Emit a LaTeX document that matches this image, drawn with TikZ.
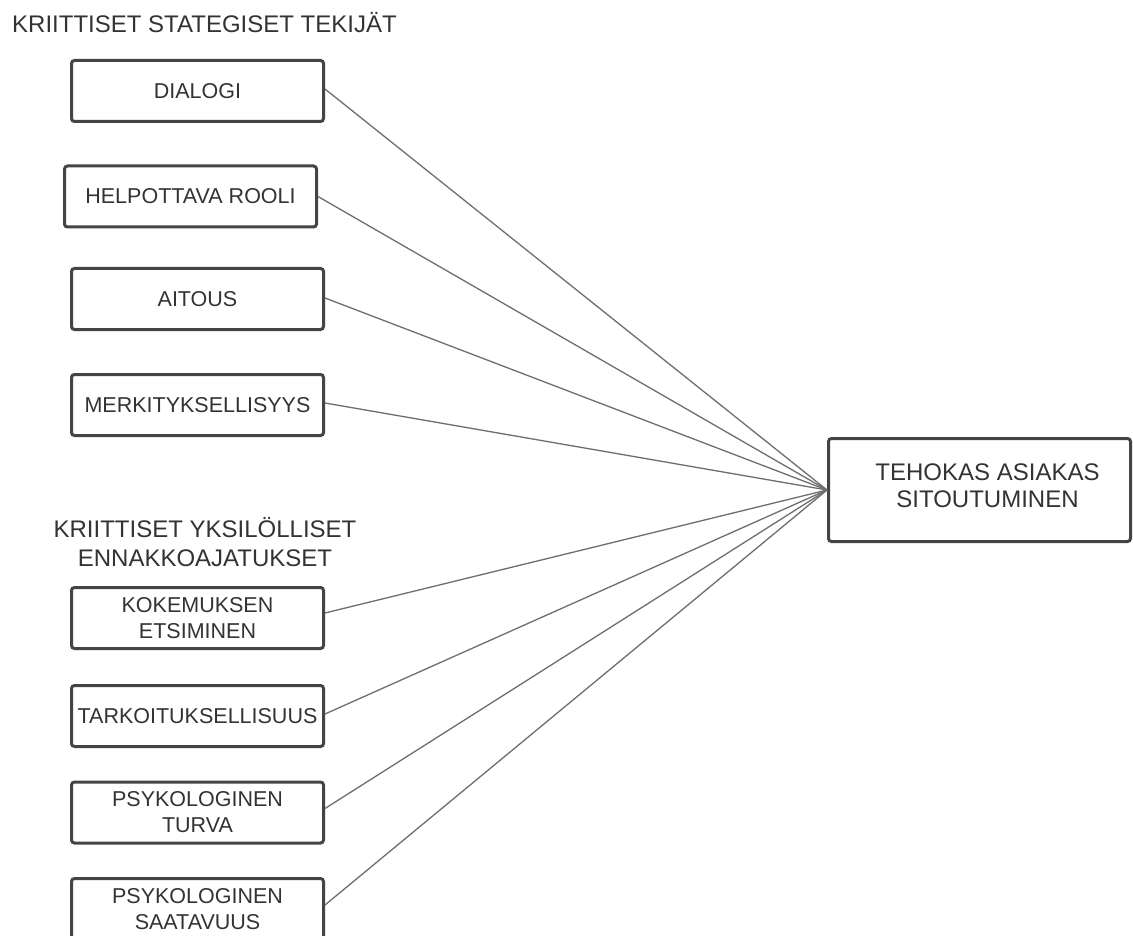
\documentclass[tikz,border=0pt]{standalone}
\usepackage{fontspec}
\setmainfont{Liberation Sans}
\definecolor{boxc}{HTML}{444444}
\definecolor{txtc}{HTML}{333333}
\definecolor{linec}{HTML}{6E6E6E}
\begin{document}
\begin{tikzpicture}[x=1pt,y=-1pt,
  box/.style={draw=boxc,line width=3pt,rounded corners=3pt,minimum width=252pt,minimum height=61pt,inner sep=0pt,align=center,text=txtc,font=\fontsize{21.5}{26}\selectfont},
  ttl/.style={text=txtc,font=\fontsize{24}{29}\selectfont,inner sep=0pt,align=center},
  conn/.style={draw=linec,line width=1.3pt}]
\useasboundingbox (0,0) rectangle (1133,936);
\clip (0,0) rectangle (1133,936);
\fill[white] (0,0) rectangle (1133,936);

\node[ttl,anchor=base west] (t1) at (12,33) {KRIITTISET STATEGISET TEKIJÄT};
\node[ttl] (t2) at (205,542) {KRIITTISET YKSILÖLLISET\\ENNAKKOAJATUKSET};

\node[box] (b1) at (197.5,91) {DIALOGI};
\node[box] (b2) at (190.5,196.5) {HELPOTTAVA ROOLI};
\node[box] (b3) at (197.5,299) {AITOUS};
\node[box] (b4) at (197.5,405) {MERKITYKSELLISYYS};
\node[box] (b5) at (197.5,618) {KOKEMUKSEN\\ETSIMINEN};
\node[box] (b6) at (197.5,716) {TARKOITUKSELLISUUS};
\node[box] (b7) at (197.5,812.5) {PSYKOLOGINEN\\TURVA};
\node[box] (b8) at (197.5,909) {PSYKOLOGINEN\\SAATAVUUS};

\node[box,minimum width=302pt,minimum height=103pt] (tgt) at (979.5,490) {};
\node[ttl,font=\fontsize{24}{27}\selectfont] (tgtl) at ([xshift=8pt,yshift=4pt]tgt.center) {TEHOKAS ASIAKAS\\SITOUTUMINEN};

\draw[conn] ([yshift=2pt]b1.east) -- (tgt.west);
\draw[conn] (b2.east) -- (tgt.west);
\draw[conn] ([yshift=1pt]b3.east) -- (tgt.west);
\draw[conn] ([yshift=2pt]b4.east) -- (tgt.west);
\draw[conn] ([yshift=5pt]b5.east) -- (tgt.west);
\draw[conn] ([yshift=2pt]b6.east) -- (tgt.west);
\draw[conn] ([yshift=4pt]b7.east) -- (tgt.west);
\draw[conn] ([yshift=4pt]b8.east) -- (tgt.west);
\end{tikzpicture}
\end{document}
